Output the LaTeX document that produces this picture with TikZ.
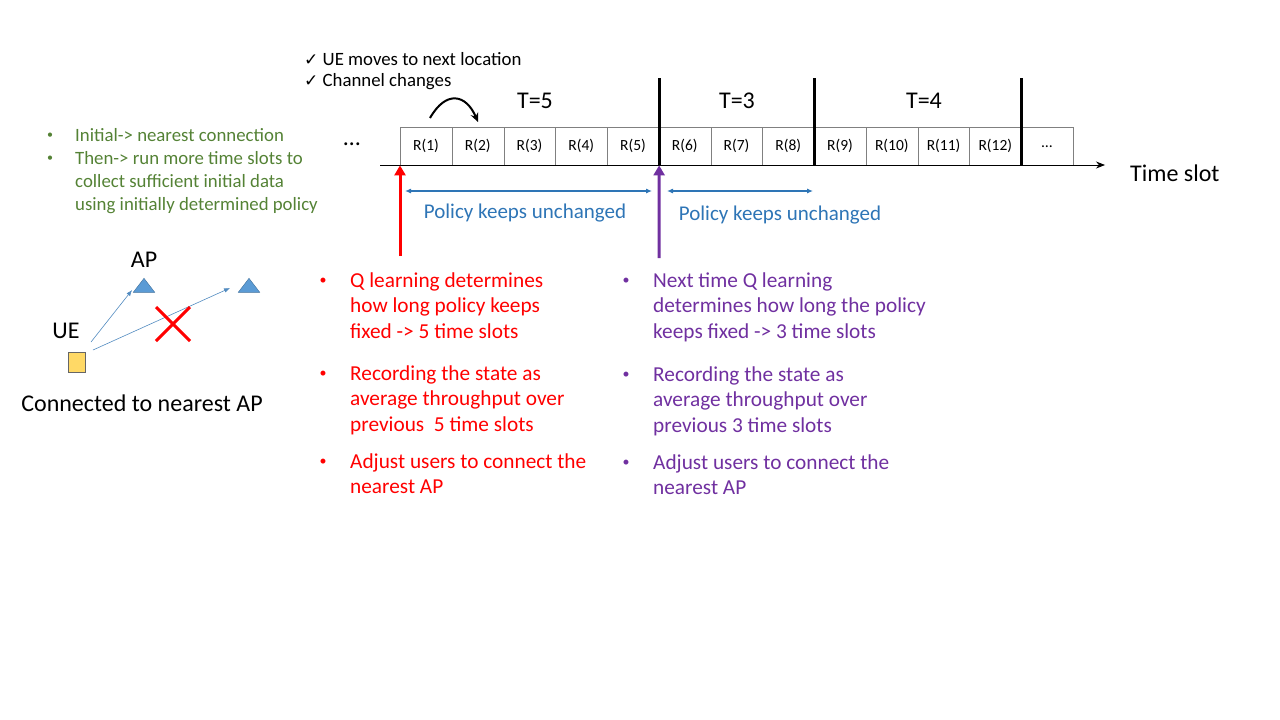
\documentclass[tikz,border=0pt]{standalone}
\usepackage{fontspec}
\setmainfont{Carlito}
\newfontfamily\symfont{DejaVu Sans}
\usetikzlibrary{arrows.meta,shapes.geometric,positioning}

\definecolor{qred}{HTML}{FF0000}
\definecolor{qpurple}{HTML}{7030A0}
\definecolor{qgreen}{HTML}{548235}
\definecolor{qblue}{HTML}{2E75B6}
\definecolor{apfill}{HTML}{5B9BD5}
\definecolor{apline}{HTML}{41719C}
\definecolor{uefill}{HTML}{FFD966}

\begin{document}
\begin{tikzpicture}[
  x=1pt,y=-1pt,
  every node/.style={inner sep=0pt,align=left},
  slot/.style={draw=gray,minimum width=51.75pt,minimum height=38pt,anchor=north west,font=\fontsize{15.5}{18}\selectfont},
  bar/.style={line width=3pt},
  axis/.style={-{Stealth[length=9pt,width=7pt]},thick},
  trig/.style={line width=3pt,-{Triangle[length=10pt,width=11pt]}},
  pol/.style={qblue,line width=1.1pt,{Latex[length=6pt,width=5pt]}-{Latex[length=6pt,width=5pt]}},
  poltext/.style={qblue,font=\fontsize{21}{25}\selectfont},
  tlabel/.style={font=\fontsize{24}{28}\selectfont},
  big/.style={font=\fontsize{24}{28}\selectfont},
  check/.style={font=\fontsize{18.8}{22}\selectfont,anchor=west},
  dot/.style={font=\fontsize{14}{16}\selectfont},
  item/.style={font=\fontsize{21.3}{25.5}\selectfont,anchor=north west},
  gitem/.style={qgreen,font=\fontsize{18.8}{22.7}\selectfont,anchor=north west},
  ap/.style={isosceles triangle,isosceles triangle apex angle=75,shape border rotate=90,draw=apline,fill=apfill,minimum width=17pt,minimum height=14pt,inner sep=0pt},
  ue/.style={draw=gray!80!black,fill=uefill,minimum width=17pt,minimum height=20pt},
  link/.style={apfill!90!black,semithick,-{Latex[length=6pt,width=4.5pt]}},
  cross/.style={qred,line width=3pt}]

  \path[use as bounding box] (0,0) rectangle (1280,720);

  % time slots
  \foreach \i in {1,...,12}
    \node[slot] (s\i) at ({400+(\i-1)*51.75},127) {R(\i)};
  \node[slot] (s13) at ({400+12*51.75},127) {\dots};
  \node[big] (dots) at (352,144) {\dots};

  \coordinate (ax0) at (380,165);
  \coordinate (ax1) at (1105,165);
  \draw[axis] (ax0) -- (ax1);
  \node[big,anchor=west,right=25pt of ax1,yshift=-8pt] (tslot) {Time slot};

  % policy boundaries
  \draw[bar] (s5.south east) -- ++(0,-87);
  \draw[bar] (s8.south east) -- ++(0,-87);
  \draw[bar] (s12.south east) -- ++(0,-87);

  \node[tlabel] (t5) at (535,101) {T=5};
  \node[tlabel] (t3) at (737,101) {T=3};
  \node[tlabel] (t4) at (924,101) {T=4};

  \coordinate (mvA) at (430,118);
  \coordinate (mvB) at (478,122);
  \draw[line width=2pt,-{Stealth[length=9pt,width=8pt]}] (mvA) .. controls (446,90) and (466,94) .. (mvB);

  \node[check] (mv) at (304,59) {{\symfont\fontsize{17}{19}\selectfont ✓} UE moves to next location};
  \node[check] (ch) at (304,82) {{\symfont\fontsize{17}{19}\selectfont ✓} Channel changes};

  % trigger arrows
  \coordinate (qa) at (400,256);
  \coordinate (qb) at (659,258);
  \draw[trig,qred] (qa) -- (s1.south west);
  \draw[trig,qpurple] (qb) -- (s5.south east);

  \coordinate (pa0) at (405,191);
  \coordinate (pa1) at (652,191);
  \coordinate (pb0) at (667,191);
  \coordinate (pb1) at (813,191);
  \draw[pol] (pa0) -- (pa1);
  \draw[pol] (pb0) -- (pb1);
  \node[poltext] (pk1) at (525,213) {Policy keeps unchanged};
  \node[poltext] (pk2) at (780,215) {Policy keeps unchanged};

  % red list
  \node[dot,qred] (rd1) at (323,281) {\textbullet};
  \node[item,qred] (r1) at (350,272.5) {Q learning determines\\how long policy keeps\\fixed -> 5 time slots};
  \node[dot,qred] (rd2) at (323,374) {\textbullet};
  \node[item,qred] (r2) at (350,365.5) {Recording the state as\\average throughput over\\previous \ 5 time slots};
  \node[dot,qred] (rd3) at (323,462) {\textbullet};
  \node[item,qred] (r3) at (350,453.5) {Adjust users to connect the\\nearest AP};

  % purple list
  \node[dot,qpurple] (pd1) at (626,281) {\textbullet};
  \node[item,qpurple] (p1) at (653,272.5) {Next time Q learning\\determines how long the policy\\keeps fixed -> 3 time slots};
  \node[dot,qpurple] (pd2) at (626,375) {\textbullet};
  \node[item,qpurple] (p2) at (653,366.5) {Recording the state as\\average throughput over\\previous 3 time slots};
  \node[dot,qpurple] (pd3) at (626,463) {\textbullet};
  \node[item,qpurple] (p3) at (653,454.5) {Adjust users to connect the\\nearest AP};

  % green list
  \node[dot,qgreen,font=\fontsize{12}{14}\selectfont] (gd1) at (50,136) {\textbullet};
  \node[gitem] (g1) at (75,128.4) {Initial-> nearest connection};
  \node[dot,qgreen,font=\fontsize{12}{14}\selectfont] (gd2) at (50,159) {\textbullet};
  \node[gitem] (g2) at (75,151.4) {Then-> run more time slots to\\collect sufficient initial data\\using initially determined policy};

  % UE and APs
  \node[ap] (ap1) at (144,287) {};
  \node[ap] (ap2) at (249,287) {};
  \node[big,above=10pt of ap1] (aplab) {AP};
  \node[ue] (ue) at (77,362) {};
  \node[big] (uelab) at (66,331) {UE};
  \node[big] (conn) at (142,403) {Connected to nearest AP};
  \coordinate (l1) at (91,342);
  \coordinate (l2) at (93,350);
  \draw[link] (l1) -- ([shift={(-5pt,-3pt)}]ap1.west);
  \draw[link] (l2) -- ([shift={(-12pt,-1pt)}]ap2.west);
  \coordinate (xc) at (173,324);
  \draw[cross] ([shift={(-17,-17)}]xc) -- ([shift={(17,17)}]xc);
  \draw[cross] ([shift={(-17,17)}]xc) -- ([shift={(17,-17)}]xc);

\end{tikzpicture}
\end{document}
